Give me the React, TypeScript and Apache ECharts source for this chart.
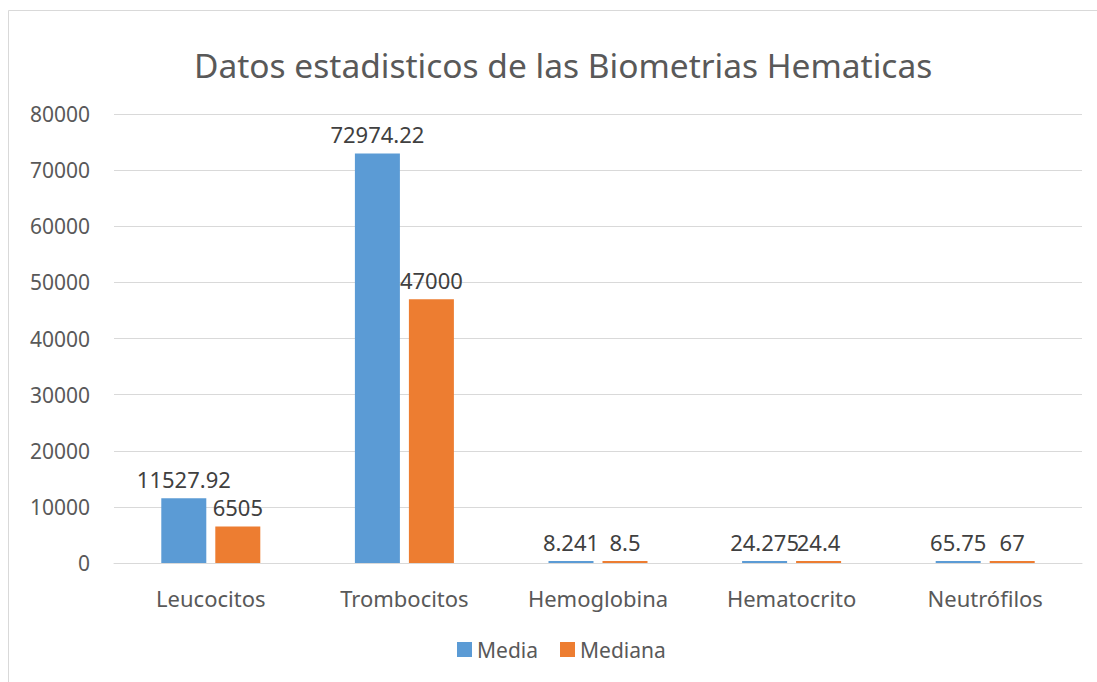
import React, { useEffect, useRef } from "react";
import * as echarts from "echarts";

const categories = ["Leucocitos", "Trombocitos", "Hemoglobina", "Hematocrito", "Neutrófilos"];
const media = [11527.92, 72974.22, 8.241, 24.275, 65.75];
const mediana = [6505, 47000, 8.5, 24.4, 67];
const seriesNames = ["Media", "Mediana"];
const title = "Datos estadisticos de las Biometrias Hematicas";

const FONT = "Noto Sans";

export default function App() {
  const ref = useRef<HTMLDivElement>(null);
  useEffect(() => {
    if (!ref.current) return;
    const chart = echarts.init(ref.current, undefined, { renderer: "svg" });
    const label = {
      show: true,
      position: "top" as const,
      distance: 8,
      color: "#404040",
      fontSize: 22,
      fontFamily: FONT,
    };
    chart.setOption({
      animation: false,
      backgroundColor: "#ffffff",
      textStyle: { fontFamily: FONT },
      graphic: [
        {
          type: "rect",
          shape: { x: 8.5, y: 10.5, width: 1100, height: 700 },
          style: { fill: "none", stroke: "#d9d9d9", lineWidth: 1 },
          silent: true,
        },
      ],
      title: {
        text: title,
        left: 189,
        top: 43,
        textStyle: { color: "#595959", fontSize: 33.5, fontWeight: "normal", fontFamily: FONT },
      },
      legend: {
        data: seriesNames,
        bottom: 17,
        left: 452,
        itemWidth: 15,
        itemHeight: 15,
        itemGap: 22,
        icon: "rect",
        textStyle: { color: "#595959", fontSize: 21, fontFamily: FONT },
      },
      grid: { left: 114, right: 15, top: 114, bottom: 119, containLabel: false },
      xAxis: {
        type: "category",
        data: categories,
        axisLine: { lineStyle: { color: "#d9d9d9", width: 1 } },
        axisTick: { show: false },
        axisLabel: { color: "#595959", fontSize: 22, margin: 24, fontFamily: FONT },
      },
      yAxis: {
        type: "value",
        min: 0,
        max: 80000,
        interval: 10000,
        axisLine: { show: false },
        axisTick: { show: false },
        splitLine: { lineStyle: { color: "#d9d9d9", width: 1 } },
        axisLabel: {
          color: "#595959",
          fontSize: 21,
          margin: 24,
          fontFamily: FONT,
          formatter: (v: number) => String(v),
        },
      },
      series: [
        {
          name: seriesNames[0],
          type: "bar",
          data: media,
          itemStyle: { color: "#5b9bd5" },
          barWidth: 45,
          barGap: "20%",
          barMinHeight: 2,
          label,
        },
        {
          name: seriesNames[1],
          type: "bar",
          data: mediana,
          itemStyle: { color: "#ed7d31" },
          barWidth: 45,
          barGap: "20%",
          barMinHeight: 2,
          label,
        },
      ],
    });
    return () => chart.dispose();
  }, []);
  return (
    <div
      ref={ref}
      style={{ position: "fixed", left: 0, top: 0, width: 1097, height: 682 }}
    />
  );
}
